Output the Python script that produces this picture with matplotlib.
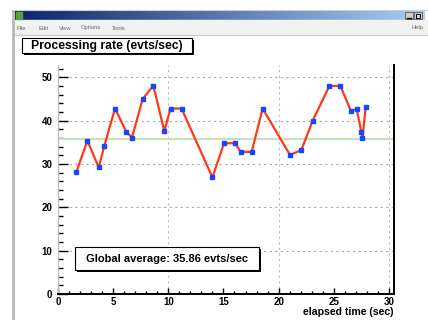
import matplotlib
matplotlib.use("Agg")
import matplotlib.pyplot as plt
import numpy as np
from matplotlib.patches import Rectangle

plt.rcParams['font.family'] = ['Liberation Sans', 'DejaVu Sans']

# rate samples (elapsed time in sec, events/sec)
elapsed = [1.66, 2.66, 3.69, 4.2, 5.17, 6.2, 6.7, 7.68, 8.64, 9.64, 10.2, 11.2,
           14.0, 15.05, 16.05, 16.56, 17.56, 18.55, 21.03, 22.06, 23.09, 24.6,
           25.6, 26.56, 27.08, 27.5, 27.6, 27.9]
rate = [28.1, 35.4, 29.2, 34.2, 42.8, 37.4, 36.1, 45.0, 48.1, 37.6, 42.8, 42.8,
        26.9, 34.8, 34.8, 32.8, 32.8, 42.8, 32.1, 33.2, 40.0, 48.0,
        48.0, 42.2, 42.7, 37.4, 36.1, 43.2]
global_avg = 35.86

x_ticks = [0, 5, 10, 15, 20, 25, 30]
y_ticks = [0, 10, 20, 30, 40, 50]
menu_items = ["File", "Edit", "View", "Options", "Tools"]

W, H = 428, 320
fig = plt.figure(figsize=(W / 100, H / 100), dpi=100)
fig.patch.set_facecolor("white")

# pixel-space layer for the window decoration
bg = fig.add_axes([0, 0, 1, 1], zorder=0)
bg.set_xlim(0, W)
bg.set_ylim(H, 0)
bg.axis("off")

# title bar gradient
grad = np.linspace(0, 1, 256)[None, :, None]
c0 = np.array([10, 36, 106]) / 255
c1 = np.array([170, 205, 240]) / 255
bar = c0 + (c1 - c0) * grad
bg.imshow(bar, extent=[15, 425, 20, 11], aspect="auto", zorder=1)
bg.add_patch(Rectangle((16, 12), 6, 7, color="#5aa040", zorder=2))
for bx in (405, 414):
    bg.add_patch(Rectangle((bx, 12), 8, 7, facecolor="#d4d0c8",
                           edgecolor="#404040", lw=0.5, zorder=2))
bg.plot([407, 411], [17.5, 17.5], color="black", lw=1, zorder=3)
bg.add_patch(Rectangle((416, 13.5), 4, 4, fill=False, edgecolor="black",
                       lw=0.7, zorder=3))

# menu bar
bg.add_patch(Rectangle((14, 20), 414, 15, color="#f2f2f0", zorder=1))
mx = 17
for item in menu_items:
    bg.text(mx, 28, item, fontsize=4.2, color="#666666", va="center",
            ha="left", zorder=2)
    mx += len(item) * 3.3 + 8
bg.text(412, 28, "Help", fontsize=4.2, color="#666666", va="center",
        ha="left", zorder=2)
bg.plot([14, 428], [35, 35], color="#c8c8c8", lw=0.8, zorder=2)
bg.plot([13, 13], [11, 320], color="#b8b8b8", lw=2, zorder=2)
bg.plot([15, 428], [10, 10], color="#d0d0d0", lw=0.8, zorder=2)

# main frame
L, R, T, B = 58, 394, 65, 294
ax = fig.add_axes([L / W, (H - B) / H, (R - L) / W, (B - T) / H], zorder=1)
ax.set_xlim(0, 30.46)
ax.set_ylim(0, 52.85)
ax.set_facecolor("white")

for v in y_ticks[1:]:
    ax.axhline(v, color="#a8a8a8", lw=0.8, ls=(0, (2, 3)), zorder=1)
for v in [10, 20, 30]:
    ax.axvline(v, color="#b8b8b8", lw=0.8, ls=(0, (2, 3)), zorder=1)

ax.axhline(global_avg, color="#c6e2bc", lw=1.6, zorder=2)
ax.plot(elapsed, rate, color="#ff3818", lw=1.6, zorder=3,
        marker="s", markersize=3.2, markerfacecolor="#1448ff",
        markeredgecolor="#1448ff")

ax.spines["top"].set_visible(False)
ax.spines["left"].set_color("#c0c0c0")
ax.spines["left"].set_linewidth(1)
ax.spines["bottom"].set_linewidth(1.4)
ax.spines["right"].set_linewidth(1.4)

ax.set_xticks(x_ticks)
ax.set_yticks(y_ticks)
ax.set_xticks(np.arange(0, 31, 1), minor=True)
ax.set_yticks(np.arange(0, 53, 2), minor=True)
ax.tick_params(axis="y", which="major", direction="in", length=7, width=1,
               labelsize=7, pad=4)
ax.tick_params(axis="y", which="minor", direction="in", length=3.6, width=1)
ax.tick_params(axis="x", which="major", direction="in", length=4.5, width=1,
               labelsize=7, pad=2)
ax.tick_params(axis="x", which="minor", direction="in", length=2.3, width=1)
for lab in ax.get_xticklabels() + ax.get_yticklabels():
    lab.set_fontweight("bold")

# overlay for text boxes
top = fig.add_axes([0, 0, 1, 1], zorder=2)
top.set_xlim(0, W)
top.set_ylim(H, 0)
top.axis("off")
top.patch.set_alpha(0)


def pave(x0, y0, x1, y1, text, size):
    top.add_patch(Rectangle((x0 + 2, y0 + 2), x1 - x0, y1 - y0,
                            facecolor="black", edgecolor="none"))
    top.add_patch(Rectangle((x0, y0), x1 - x0, y1 - y0, facecolor="white",
                            edgecolor="black", lw=0.8))
    top.text((x0 + x1) / 2, (y0 + y1) / 2 + 0.5, text, fontsize=size,
             fontweight="bold", ha="center", va="center")


pave(22, 38, 192, 53, "Processing rate (evts/sec)", 8.8)
pave(75, 247, 259, 270, "Global average: %.2f evts/sec" % global_avg, 8.0)

top.text(394, 312, "elapsed time (sec)", fontsize=7.6, fontweight="bold",
         ha="right", va="center")

fig.savefig("out.png", dpi=100, facecolor="white")
